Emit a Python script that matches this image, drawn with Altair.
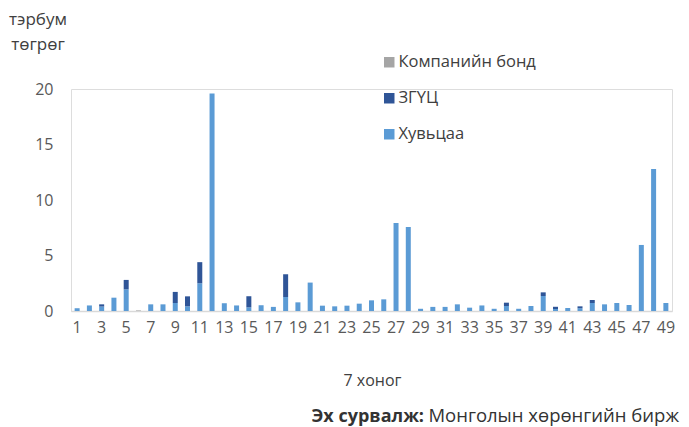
import altair as alt
import pandas as pd

weeks = list(range(1, 50))
huvitsaa = [0.25, 0.5, 0.4, 1.2, 1.95, 0.0, 0.6, 0.6, 0.72, 0.42,
            2.5, 19.6, 0.7, 0.5, 0.33, 0.52, 0.37, 1.26, 0.78, 2.56,
            0.48, 0.42, 0.48, 0.66, 0.96, 1.05, 7.93, 7.57, 0.2, 0.37,
            0.37, 0.6, 0.3, 0.5, 0.2, 0.45, 0.2, 0.45, 1.35, 0.18,
            0.27, 0.25, 0.72, 0.6, 0.72, 0.54, 5.95, 12.8, 0.72]
zguts = [0, 0, 0.2, 0, 0.85, 0, 0, 0, 1.0, 0.9,
         1.9, 0, 0, 0, 1.0, 0, 0, 2.05, 0, 0,
         0, 0, 0, 0, 0, 0, 0, 0, 0, 0,
         0, 0, 0, 0, 0, 0.3, 0, 0, 0.33, 0.2,
         0, 0.17, 0.27, 0, 0, 0, 0, 0, 0]
bond = [0, 0, 0, 0, 0, 0.05, 0, 0, 0, 0,
        0, 0, 0, 0, 0, 0, 0, 0, 0, 0,
        0, 0, 0, 0, 0, 0, 0, 0, 0, 0,
        0, 0, 0, 0, 0, 0, 0, 0, 0, 0,
        0, 0, 0, 0, 0, 0, 0, 0, 0]
series = ["Компанийн бонд", "ЗГҮЦ", "Хувьцаа"]
colors = ["#A5A5A5", "#2F5597", "#5B9BD5"]
odd_ticks = [w for w in weeks if w % 2 == 1]

rows = []
for i, w in enumerate(weeks):
    rows.append({"week": w, "series": "Хувьцаа", "value": huvitsaa[i], "ord": 0})
    rows.append({"week": w, "series": "ЗГҮЦ", "value": zguts[i], "ord": 1})
    rows.append({"week": w, "series": "Компанийн бонд", "value": bond[i], "ord": 2})
df = pd.DataFrame(rows)

FONT = "Open Sans"
W, H = 601, 222

bars = alt.Chart(df).mark_bar(size=5).encode(
    x=alt.X("week:O", scale=alt.Scale(paddingInner=0.6, paddingOuter=0.3),
            axis=alt.Axis(values=odd_ticks, labelAngle=0, ticks=False,
                          domainColor="#D9D9D9", domainWidth=1.5,
                          labelColor="#595959", labelFontSize=16, labelFont=FONT,
                          labelPadding=8, title="7 хоног", titleFont=FONT,
                          titleFontSize=16, titleFontWeight="normal",
                          titleColor="#404040", titleX=301, titleY=61,
                          titleAlign="center")),
    y=alt.Y("value:Q", stack="zero", scale=alt.Scale(domain=[0, 20], nice=False),
            axis=alt.Axis(values=[0, 5, 10, 15, 20], grid=False, domain=False,
                          ticks=False, labelColor="#595959", labelFontSize=16,
                          labelFont=FONT, labelPadding=18, title=None)),
    color=alt.Color("series:N", scale=alt.Scale(domain=series, range=colors),
                    legend=alt.Legend(title=None, orient="none", legendX=310,
                                      legendY=-35, symbolType="square",
                                      symbolSize=110, symbolStrokeWidth=0,
                                      labelFont=FONT, labelFontSize=16.5,
                                      labelColor="#404040", rowPadding=19,
                                      labelOffset=1)),
    order=alt.Order("ord:Q"),
)

ytitle = alt.Chart(pd.DataFrame({"t": [["тэрбум", "төгрөг"]]})).mark_text(
    font=FONT, fontSize=17, color="#404040", align="center", baseline="middle",
    lineHeight=25
).encode(text="t", x=alt.value(-33), y=alt.value(-69))

src_bold = alt.Chart(pd.DataFrame({"t": ["Эх сурвалж:"]})).mark_text(
    font=FONT, fontSize=18, fontWeight="bold", color="#333333", align="right",
    baseline="alphabetic"
).encode(text="t:N", x=alt.value(353), y=alt.value(333))

src_norm = alt.Chart(pd.DataFrame({"t": ["Монголын хөрөнгийн бирж"]})).mark_text(
    font=FONT, fontSize=18.5, color="#333333", align="right", baseline="alphabetic"
).encode(text="t:N", x=alt.value(608), y=alt.value(333))

chart = alt.layer(bars, ytitle, src_bold, src_norm).properties(
    width=W, height=H,
    autosize=alt.AutoSizeParams(type="none"),
    padding={"left": 63, "top": 81, "right": 9, "bottom": 118},
).configure_view(stroke=None).configure(background="white")

chart.save("out.html", embed_options={"renderer": "svg", "actions": False})
